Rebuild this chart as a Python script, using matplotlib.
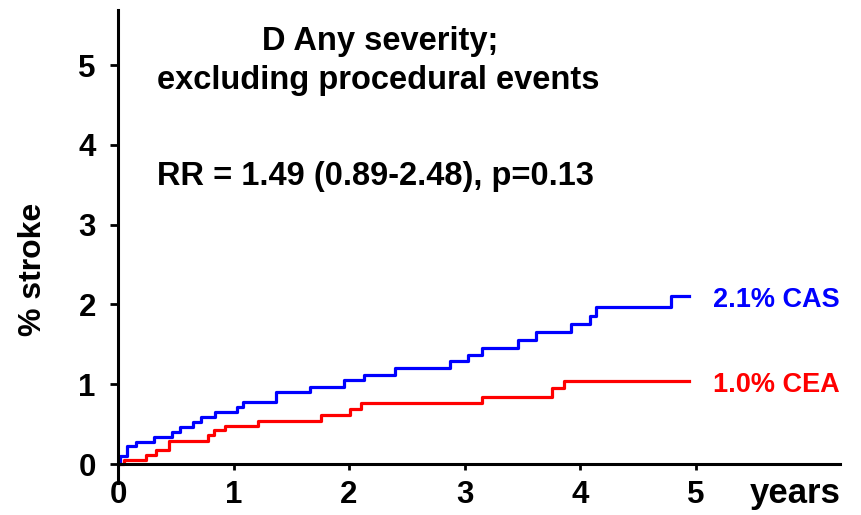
import matplotlib
matplotlib.use("Agg")
import matplotlib.pyplot as plt

# Data
cas_t = [0.0, 0.02, 0.075, 0.16, 0.31, 0.47, 0.54, 0.65, 0.72, 0.84, 1.03, 1.08, 1.37,
         1.66, 1.96, 2.13, 2.40, 2.87, 3.03, 3.15, 3.46, 3.62, 3.92, 4.09, 4.14, 4.79, 4.94]
cas_v = [0.0, 0.10, 0.23, 0.28, 0.34, 0.40, 0.47, 0.53, 0.59, 0.65, 0.71, 0.78, 0.90,
         0.97, 1.05, 1.12, 1.20, 1.29, 1.37, 1.46, 1.55, 1.65, 1.76, 1.86, 1.97, 2.10, 2.10]
cea_t = [0.0, 0.05, 0.24, 0.33, 0.44, 0.78, 0.83, 0.93, 1.21, 1.76, 2.01, 2.10, 3.15,
         3.76, 3.86, 4.94]
cea_v = [0.0, 0.05, 0.11, 0.18, 0.29, 0.36, 0.43, 0.48, 0.54, 0.61, 0.69, 0.76, 0.84,
         0.95, 1.04, 1.04]
x_ticks = [0, 1, 2, 3, 4, 5]
y_ticks = [0, 1, 2, 3, 4, 5]

plt.rcParams['font.family'] = ['Liberation Sans', 'DejaVu Sans']
plt.rcParams['font.weight'] = 'bold'

W, H = 861, 515
fig = plt.figure(figsize=(W/100, H/100), dpi=100)
ax = fig.add_axes([118/W, 1-483/H, (840-118)/W, (483-10)/H])
ax.step(cas_t, cas_v, where='post', color='#0000ff', lw=2.3)
ax.step(cea_t, cea_v, where='post', color='#ff0000', lw=2.3)

ax.set_xlim(0, 6.25)
ax.set_ylim(-0.238, 5.69)
ax.spines['top'].set_visible(False)
ax.spines['right'].set_visible(False)
ax.spines['bottom'].set_position(('data', 0))
for s in ('left', 'bottom'):
    ax.spines[s].set_linewidth(2.2)
ax.set_xticks(x_ticks)
ax.set_yticks(y_ticks)
ax.set_xticklabels([str(v) for v in x_ticks], fontsize=22.5, fontweight='bold')
ax.set_yticklabels([str(v) for v in y_ticks], fontsize=22.5, fontweight='bold')
ax.tick_params(axis='x', direction='out', length=4.5, width=2, pad=7)
ax.tick_params(axis='y', direction='out', length=6, width=2, pad=10)

def t(x, y, s, **kw):
    fig.text(x/W, 1-y/H, s, fontweight='bold', **kw)

t(33, 269, '% stroke', rotation=90, ha='center', va='center', fontsize=23)
t(795, 503, 'years', ha='center', va='baseline', fontsize=25)
t(380, 50, 'D Any severity;', ha='center', va='baseline', fontsize=23.5)
t(378.5, 89, 'excluding procedural events', ha='center', va='baseline', fontsize=23.5)
t(375, 185, 'RR = 1.49 (0.89-2.48), p=0.13', ha='center', va='baseline', fontsize=23.5)
t(776.5, 306.7, '2.1% CAS', ha='center', va='baseline', color='#0000ff', fontsize=19.5)
t(776.5, 391.7, '1.0% CEA', ha='center', va='baseline', color='#ff0000', fontsize=19.5)

fig.savefig('out.png', dpi=100)
